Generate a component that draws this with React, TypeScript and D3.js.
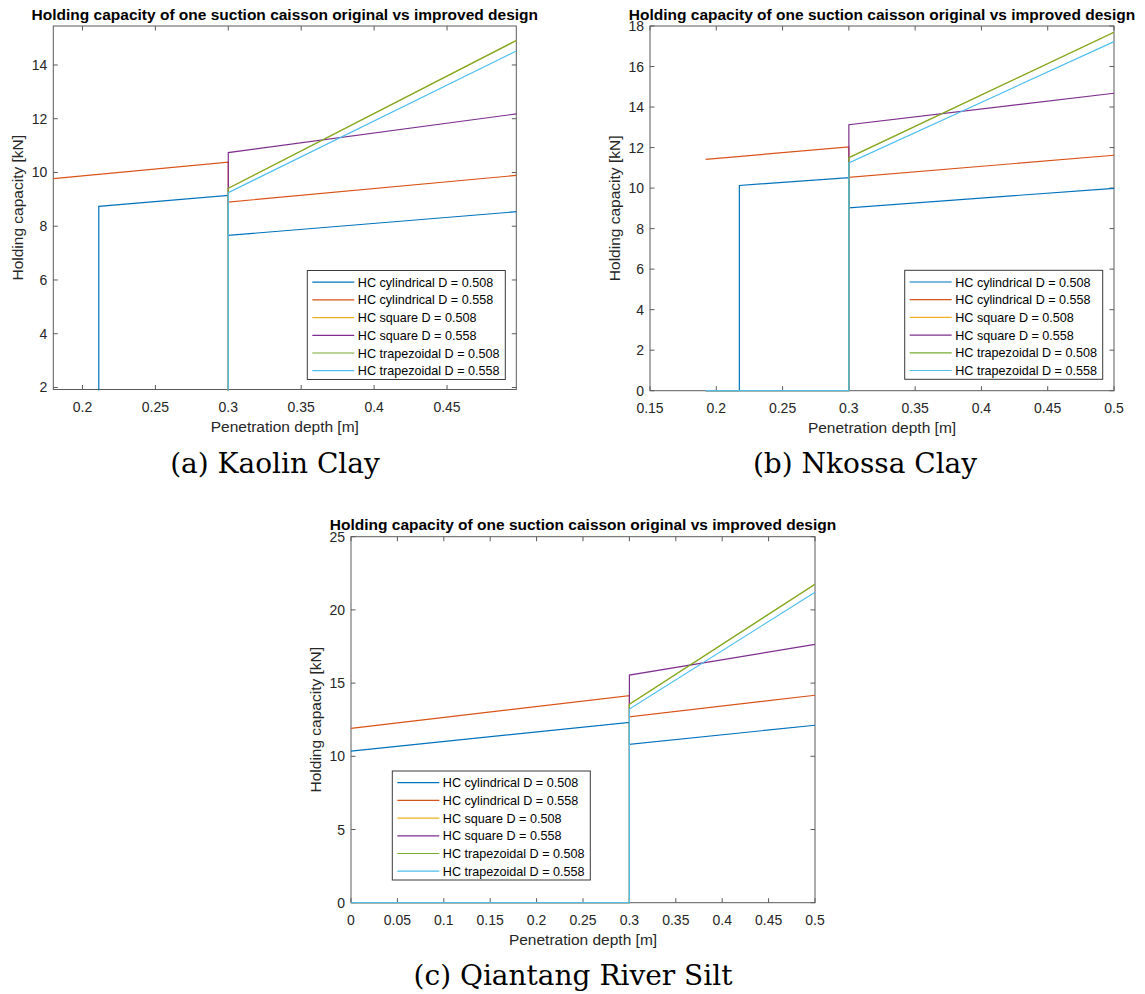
import React from "react";
import * as d3 from "d3";

type Pt = [number, number];

// ---------- shared ----------
const legendLabels = [
  "HC cylindrical D = 0.508",
  "HC cylindrical D = 0.558",
  "HC square D = 0.508",
  "HC square D = 0.558",
  "HC trapezoidal D = 0.508",
  "HC trapezoidal D = 0.558",
];
const titleText = "Holding capacity of one suction caisson original vs improved design";
const xLabelText = "Penetration depth [m]";
const yLabelText = "Holding capacity [kN]";

// ---------- (a) Kaolin Clay ----------
const kaolinXDomain: [number, number] = [0.18, 0.4975];
const kaolinYDomain: [number, number] = [1.925, 15.45];
const kaolinXTicks = [0.2, 0.25, 0.3, 0.35, 0.4, 0.45];
const kaolinYTicks = [2, 4, 6, 8, 10, 12, 14];
const kaolinCyl508: Pt[] = [[0.18, 0], [0.2112, 0], [0.2112, 8.74], [0.3, 9.15], [0.3, 7.66], [0.4975, 8.54]];
const kaolinCyl558: Pt[] = [[0.18, 9.77], [0.3, 10.38], [0.3, 8.9], [0.4975, 9.89]];
const kaolinSq508: Pt[] = [[0.18, 0], [0.3, 0], [0.3, 9.41], [0.4975, 14.91]];
const kaolinSq558: Pt[] = [[0.18, 0], [0.3, 0], [0.3, 10.74], [0.4975, 12.18]];
const kaolinTr508: Pt[] = [[0.18, 0], [0.3, 0], [0.3, 9.41], [0.4975, 14.91]];
const kaolinTr558: Pt[] = [[0.18, 0], [0.3, 0], [0.3, 9.25], [0.4975, 14.52]];

// ---------- (b) Nkossa Clay ----------
const nkossaXDomain: [number, number] = [0.15, 0.5];
const nkossaYDomain: [number, number] = [0, 18];
const nkossaXTicks = [0.15, 0.2, 0.25, 0.3, 0.35, 0.4, 0.45, 0.5];
const nkossaYTicks = [0, 2, 4, 6, 8, 10, 12, 14, 16, 18];
const nkossaCyl508: Pt[] = [[0.192, 0], [0.2174, 0], [0.2174, 10.13], [0.3, 10.51], [0.3, 9.03], [0.5, 9.99]];
const nkossaCyl558: Pt[] = [[0.192, 11.42], [0.3, 12.03], [0.3, 10.53], [0.5, 11.62]];
const nkossaSq508: Pt[] = [[0.192, 0], [0.3, 0], [0.3, 11.5], [0.5, 17.69]];
const nkossaSq558: Pt[] = [[0.192, 0], [0.3, 0], [0.3, 13.13], [0.5, 14.68]];
const nkossaTr508: Pt[] = [[0.192, 0], [0.3, 0], [0.3, 11.5], [0.5, 17.69]];
const nkossaTr558: Pt[] = [[0.192, 0], [0.3, 0], [0.3, 11.24], [0.5, 17.23]];

// ---------- (c) Qiantang River Silt ----------
const qiantangXDomain: [number, number] = [0, 0.5];
const qiantangYDomain: [number, number] = [0, 25];
const qiantangXTicks = [0, 0.05, 0.1, 0.15, 0.2, 0.25, 0.3, 0.35, 0.4, 0.45, 0.5];
const qiantangYTicks = [0, 5, 10, 15, 20, 25];
const qiantangCyl508: Pt[] = [[0, 10.36], [0.3, 12.32], [0.3, 10.82], [0.5, 12.12]];
const qiantangCyl558: Pt[] = [[0, 11.91], [0.3, 14.14], [0.3, 12.7], [0.5, 14.17]];
const qiantangSq508: Pt[] = [[0, 0], [0.3, 0], [0.3, 13.55], [0.5, 21.76]];
const qiantangSq558: Pt[] = [[0, 0], [0.3, 0], [0.3, 15.55], [0.5, 17.64]];
const qiantangTr508: Pt[] = [[0, 0], [0.3, 0], [0.3, 13.55], [0.5, 21.76]];
const qiantangTr558: Pt[] = [[0, 0], [0.3, 0], [0.3, 13.23], [0.5, 21.2]];

// ---------- styles ----------
const COLORS = ["#0072BD", "#D95319", "#EDB120", "#7E2F8E", "#77AC30", "#4DBEEE"];
const SANS = "'Liberation Sans', Arial, Helvetica, sans-serif";
const SERIF = "'DejaVu Serif', Georgia, serif";
const AXIS = "#5a5a5a";
const TEXT = "#262626";

interface PanelProps {
  id: string;
  left: number;
  top: number;
  width: number;
  height: number;
  xDomain: [number, number];
  yDomain: [number, number];
  xTicks: number[];
  yTicks: number[];
  series: Pt[][];
  legendAnchor: "br" | "bl";
  legendDx: number;
  legendDy: number;
  caption: string;
  captionX: number;
  captionY: number;
}

function Panel(p: PanelProps) {
  const x = d3.scaleLinear().domain(p.xDomain).range([p.left, p.left + p.width]);
  const y = d3.scaleLinear().domain(p.yDomain).range([p.top + p.height, p.top]);
  const line = d3
    .line<Pt>()
    .x((d) => x(d[0]))
    .y((d) => y(d[1]));
  const right = p.left + p.width;
  const bottom = p.top + p.height;
  const tl = 4.5;
  const fmt = (v: number) => String(+v.toFixed(3));

  const lw = 198;
  const lh = 109;
  const lx = p.legendAnchor === "br" ? right - p.legendDx - lw : p.left + p.legendDx;
  const ly = bottom - p.legendDy - lh;
  const rowH = 17.7;

  return (
    <g>
      <defs>
        <clipPath id={`clip-${p.id}`}>
          <rect x={p.left - 1} y={p.top - 1} width={p.width + 2} height={p.height + 2} />
        </clipPath>
      </defs>
      <rect x={p.left} y={p.top} width={p.width} height={p.height} fill="#fff" />
      {/* ticks */}
      {p.xTicks.map((t) => (
        <g key={`xt${t}`}>
          <line x1={x(t)} x2={x(t)} y1={bottom} y2={bottom - tl} stroke={AXIS} strokeWidth={1} />
          <line x1={x(t)} x2={x(t)} y1={p.top} y2={p.top + tl} stroke={AXIS} strokeWidth={1} />
          <text
            x={x(t)}
            y={bottom + 22}
            textAnchor="middle"
            fontFamily={SANS}
            fontSize={14}
            fill={TEXT}
          >
            {fmt(t)}
          </text>
        </g>
      ))}
      {p.yTicks.map((t) => (
        <g key={`yt${t}`}>
          <line x1={p.left} x2={p.left + tl} y1={y(t)} y2={y(t)} stroke={AXIS} strokeWidth={1} />
          <line x1={right} x2={right - tl} y1={y(t)} y2={y(t)} stroke={AXIS} strokeWidth={1} />
          <text
            x={p.left - 6}
            y={y(t) + 5}
            textAnchor="end"
            fontFamily={SANS}
            fontSize={14}
            fill={TEXT}
          >
            {fmt(t)}
          </text>
        </g>
      ))}
      <rect x={p.left} y={p.top} width={p.width} height={p.height} fill="none" stroke={AXIS} strokeWidth={1} />
      {/* data */}
      <g clipPath={`url(#clip-${p.id})`}>
        {p.series.map((s, i) => (
          <path key={i} d={line(s) || ""} fill="none" stroke={COLORS[i]} strokeWidth={1.2} />
        ))}
      </g>
      {/* title & labels */}
      <text
        x={p.left + p.width / 2}
        y={p.top - 6.5}
        textAnchor="middle"
        fontFamily={SANS}
        fontWeight="bold"
        fontSize={15.5}
        fill="#000"
      >
        {titleText}
      </text>
      <text
        x={p.left + p.width / 2}
        y={bottom + 42.5}
        textAnchor="middle"
        fontFamily={SANS}
        fontSize={15.5}
        fill={TEXT}
      >
        {xLabelText}
      </text>
      <text
        transform={`translate(${p.left - 30},${p.top + p.height / 2}) rotate(-90)`}
        textAnchor="middle"
        fontFamily={SANS}
        fontSize={15.5}
        fill={TEXT}
      >
        {yLabelText}
      </text>
      {/* legend */}
      <g>
        <rect x={lx} y={ly} width={lw} height={lh} fill="#fff" stroke="#3a3a3a" strokeWidth={1} />
        {legendLabels.map((lab, i) => {
          const cy = ly + 11.7 + i * rowH;
          return (
            <g key={lab}>
              <line x1={lx + 5} x2={lx + 47} y1={cy} y2={cy} stroke={COLORS[i]} strokeWidth={1.2} />
              <text x={lx + 50.5} y={cy + 4.5} fontFamily={SANS} fontSize={12.6} fill="#000">
                {lab}
              </text>
            </g>
          );
        })}
      </g>
      <text x={p.captionX} y={p.captionY} textAnchor="middle" fontFamily={SERIF} fontSize={28} fill="#000">
        {p.caption}
      </text>
    </g>
  );
}

export default function App() {
  return (
    <svg
      width={1145}
      height={994}
      viewBox="0 0 1145 994"
      style={{ position: "absolute", left: 0, top: 0, background: "#fff" }}
    >
      <rect x={0} y={0} width={1145} height={994} fill="#fff" />
      <Panel
        id="a"
        left={53.3}
        top={26}
        width={463}
        height={363.5}
        xDomain={kaolinXDomain}
        yDomain={kaolinYDomain}
        xTicks={kaolinXTicks}
        yTicks={kaolinYTicks}
        series={[kaolinCyl508, kaolinCyl558, kaolinSq508, kaolinSq558, kaolinTr508, kaolinTr558]}
        legendAnchor="br"
        legendDx={11}
        legendDy={10}
        caption="(a) Kaolin Clay"
        captionX={275}
        captionY={473}
      />
      <Panel
        id="b"
        left={650}
        top={26}
        width={464}
        height={364.7}
        xDomain={nkossaXDomain}
        yDomain={nkossaYDomain}
        xTicks={nkossaXTicks}
        yTicks={nkossaYTicks}
        series={[nkossaCyl508, nkossaCyl558, nkossaSq508, nkossaSq558, nkossaTr508, nkossaTr558]}
        legendAnchor="br"
        legendDx={11.3}
        legendDy={11.4}
        caption="(b) Nkossa Clay"
        captionX={865}
        captionY={473}
      />
      <Panel
        id="c"
        left={351}
        top={536.7}
        width={464}
        height={366}
        xDomain={qiantangXDomain}
        yDomain={qiantangYDomain}
        xTicks={qiantangXTicks}
        yTicks={qiantangYTicks}
        series={[qiantangCyl508, qiantangCyl558, qiantangSq508, qiantangSq558, qiantangTr508, qiantangTr558]}
        legendAnchor="bl"
        legendDx={41.3}
        legendDy={22.7}
        caption="(c) Qiantang River Silt"
        captionX={573}
        captionY={985}
      />
    </svg>
  );
}
